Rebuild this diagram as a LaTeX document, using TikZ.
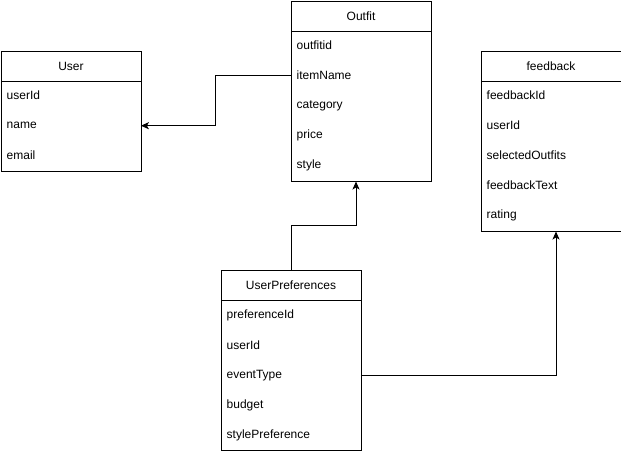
\documentclass[tikz,border=0pt]{standalone}
\usepackage{fontspec}
\setmainfont{Liberation Sans}
\usetikzlibrary{arrows.meta}
\begin{document}
\begin{tikzpicture}[x=1pt,y=-1pt,
  every node/.style={font=\fontsize{12}{14}\selectfont},
  tblbox/.style={draw, line width=1pt, minimum width=140pt, inner sep=0pt, anchor=north west},
  tblhead/.style={draw, line width=1pt, minimum width=140pt, minimum height=30pt, inner sep=0pt, anchor=north west},
  tblfield/.style={minimum height=30pt, text width=128pt, inner xsep=6pt, inner ysep=0pt, align=left, anchor=north west},
  link/.style={line width=1pt, -{Stealth[length=8pt,width=7pt,inset=2pt]}}]
\useasboundingbox (0,0) rectangle (621,451);

% User table
\node[tblbox, minimum height=120pt] (user) at (0.5,50.5) {};
\node[tblhead] (userh) at (0.5,50.5) {User};
\foreach \t [count=\i] in {userId,name,email}
  \node[tblfield] (u\i) at (0.5,{80.5+30*(\i-1)}) {\t};

% Outfit table
\node[tblbox, minimum height=180pt] (outfit) at (290.5,0.5) {};
\node[tblhead] (outfith) at (290.5,0.5) {Outfit};
\foreach \t [count=\i] in {outfitid,itemName,category,price,style}
  \node[tblfield] (o\i) at (290.5,{30.5+30*(\i-1)}) {\t};

% feedback table
\node[tblbox, minimum height=180pt] (feedback) at (480.5,50.5) {};
\node[tblhead] (feedbackh) at (480.5,50.5) {feedback};
\foreach \t [count=\i] in {feedbackId,userId,selectedOutfits,feedbackText,rating}
  \node[tblfield] (f\i) at (480.5,{80.5+30*(\i-1)}) {\t};

% UserPreferences table
\node[tblbox, minimum height=180pt] (prefs) at (220.5,270) {};
\node[tblhead] (prefsh) at (220.5,270) {UserPreferences};
\foreach \t [count=\i] in {preferenceId,userId,eventType,budget,stylePreference}
  \node[tblfield] (p\i) at (220.5,{300+30*(\i-1)}) {\t};

% relations
\draw[link] (o2.west) -- ([xshift=-75pt]o2.west) |- (u2.east);
\draw[link] (prefs.north) -- ([yshift=45pt]prefs.north) -| ([xshift=-5pt]outfit.south);
\draw[link] (p3.east) -| ([xshift=5pt]feedback.south);
\end{tikzpicture}
\end{document}
